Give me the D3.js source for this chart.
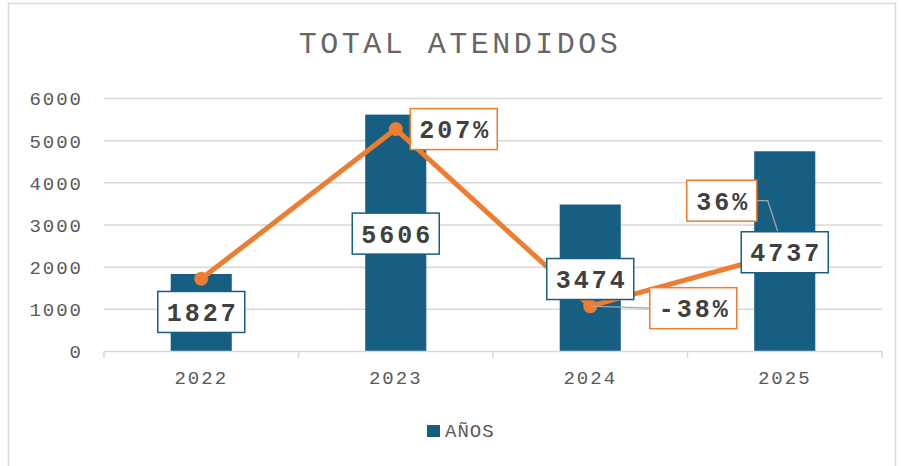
<!DOCTYPE html>
<html>
<head>
<meta charset="utf-8">
<script src="https://cdn.jsdelivr.net/npm/d3@7"></script>
<style>
  body { margin: 0; background: #fff; }
  svg text { font-family: "Liberation Mono", "Courier New", monospace; }
</style>
</head>
<body>
<svg id="drawing_region"></svg>
<script>
// data
const years = ['2022', '2023', '2024', '2025'];
const attended = [1827, 5606, 3474, 4737];
const change = [0, 2.07, -0.38, 0.36];
const changeLabels = [null, '207%', '-38%', '36%'];
const yTicks = [0, 1000, 2000, 3000, 4000, 5000, 6000];

// manual label placement (px), as in the original sheet
const barLabelDy = [38, 119, 74.5, 101];
const pctLabelOffset = [null, [58, 0], [103, 2], [-63, -52]];

const config = {
    width: 901,
    height: 466,
    margin: {top: 98, right: 19, bottom: 115, left: 104}
};

const svg = d3.select('#drawing_region')
    .attr('width', config.width)
    .attr('height', config.height);

// outer border
svg.append('rect')
    .attr('x', 8.5).attr('y', 3.5)
    .attr('width', 887).attr('height', 480)
    .attr('fill', '#fff')
    .attr('stroke', '#d9d9d9')
    .attr('stroke-width', 1.5);

const inner_width = config.width - config.margin.left - config.margin.right;
const inner_height = config.height - config.margin.top - config.margin.bottom;

const chart = svg.append('g')
    .attr('transform', `translate(${config.margin.left}, ${config.margin.top})`);

const xscale = d3.scaleBand()
    .domain(years)
    .range([0, inner_width])
    .paddingInner(0.686)
    .paddingOuter(0.343);

const yscale = d3.scaleLinear()
    .domain([0, 6000])
    .range([inner_height, 0]);

// hidden secondary axis for the percentage line
const y2scale = d3.scaleLinear()
    .domain([-1, 2.5])
    .range([inner_height, 0]);

// gridlines
chart.append('g')
    .selectAll('line')
    .data(yTicks.filter(d => d > 0))
    .join('line')
    .attr('x1', 0).attr('x2', inner_width)
    .attr('y1', d => yscale(d) + 0.5).attr('y2', d => yscale(d) + 0.5)
    .attr('stroke', '#d9d9d9')
    .attr('stroke-width', 1.5);

// y axis labels
const yaxis = d3.axisLeft(yscale)
    .tickValues(yTicks)
    .tickFormat(d3.format('d'))
    .tickSize(0)
    .tickPadding(21);

chart.append('g')
    .call(yaxis)
    .call(g => g.select('.domain').remove())
    .call(g => g.selectAll('text')
        .attr('fill', '#595959')
        .attr('font-size', '19px')
        .attr('letter-spacing', '2px')
        .attr('dy', '0.36em'));

// bars
chart.append('g')
    .selectAll('rect')
    .data(attended)
    .join('rect')
    .attr('x', (d, i) => xscale(years[i]))
    .attr('y', d => yscale(d))
    .attr('width', xscale.bandwidth())
    .attr('height', d => inner_height - yscale(d))
    .attr('fill', '#175f82');

// x axis
const step = xscale.step();
const xaxis_group = chart.append('g')
    .attr('transform', `translate(0, ${inner_height})`);

xaxis_group.append('line')
    .attr('x1', 0).attr('x2', inner_width)
    .attr('y1', 0.5).attr('y2', 0.5)
    .attr('stroke', '#d9d9d9')
    .attr('stroke-width', 1.5);

xaxis_group.selectAll('.bound')
    .data(d3.range(years.length + 1))
    .join('line')
    .attr('class', 'bound')
    .attr('x1', i => i * step).attr('x2', i => i * step)
    .attr('y1', 0).attr('y2', 7)
    .attr('stroke', '#d9d9d9')
    .attr('stroke-width', 1.5);

xaxis_group.selectAll('.xlabel')
    .data(years)
    .join('text')
    .attr('class', 'xlabel')
    .attr('x', d => xscale(d) + xscale.bandwidth() / 2)
    .attr('y', 33)
    .attr('text-anchor', 'middle')
    .attr('fill', '#595959')
    .attr('font-size', '19px')
    .attr('letter-spacing', '2px')
    .text(d => d);

// percentage line
const cx = i => xscale(years[i]) + xscale.bandwidth() / 2;
const line = d3.line()
    .x((d, i) => cx(i))
    .y(d => y2scale(d));

chart.append('path')
    .datum(change)
    .attr('d', line)
    .attr('fill', 'none')
    .attr('stroke', '#ed7d31')
    .attr('stroke-width', 5)
    .attr('stroke-linejoin', 'round');

chart.append('g')
    .selectAll('circle')
    .data(change)
    .join('circle')
    .attr('cx', (d, i) => cx(i))
    .attr('cy', d => y2scale(d))
    .attr('r', 7)
    .attr('fill', '#ed7d31');

// leader lines for moved percentage labels
const leaders = chart.append('g')
    .attr('fill', 'none')
    .attr('stroke', '#a6a6a6')
    .attr('stroke-width', 1.2);

function drawLabel(g, x, y, w, txt, color) {
    g.append('rect')
        .attr('x', x - w / 2).attr('y', y - 20.5)
        .attr('width', w).attr('height', 41)
        .attr('fill', '#fff')
        .attr('stroke', color)
        .attr('stroke-width', 1.5);
    g.append('text')
        .attr('x', x + 1.5).attr('y', y + 9)
        .attr('text-anchor', 'middle')
        .attr('fill', '#404040')
        .attr('font-size', '25px')
        .attr('font-weight', 'bold')
        .attr('letter-spacing', '3px')
        .text(txt);
}

const labels = chart.append('g');

change.forEach((d, i) => {
    if (!changeLabels[i]) return;
    const px = cx(i), py = y2scale(d);
    const lx = px + pctLabelOffset[i][0];
    const ly = py + pctLabelOffset[i][1];
    const w = changeLabels[i].length * 17 + 19;
    if (i === 2) {
        leaders.append('path')
            .attr('d', `M${px},${py} L${lx - w / 2},${ly}`);
    }
    if (i === 3) {
        leaders.append('path')
            .attr('d', `M${lx + w / 2},${ly} L${lx + w / 2 + 11},${ly} L${px},${py}`);
    }
});

attended.forEach((d, i) => {
    drawLabel(labels, cx(i), yscale(d) + barLabelDy[i], 87, String(d), '#175f82');
});

change.forEach((d, i) => {
    if (!changeLabels[i]) return;
    const lx = cx(i) + pctLabelOffset[i][0];
    const ly = y2scale(d) + pctLabelOffset[i][1];
    const w = changeLabels[i].length * 17 + 19;
    drawLabel(labels, lx, ly, w, changeLabels[i], '#ed7d31');
});

// title
svg.append('text')
    .attr('x', 460)
    .attr('y', 53)
    .attr('text-anchor', 'middle')
    .attr('fill', '#666')
    .attr('font-size', '30px')
    .attr('letter-spacing', '3.5px')
    .text('TOTAL ATENDIDOS');

// legend
const legend = svg.append('g')
    .attr('transform', 'translate(427, 425)');
legend.append('rect')
    .attr('width', 13).attr('height', 12)
    .attr('fill', '#175f82');
legend.append('text')
    .attr('x', 18).attr('y', 12)
    .attr('fill', '#595959')
    .attr('font-size', '19px')
    .attr('letter-spacing', '1px')
    .text('AÑOS');
</script>
</body>
</html>
